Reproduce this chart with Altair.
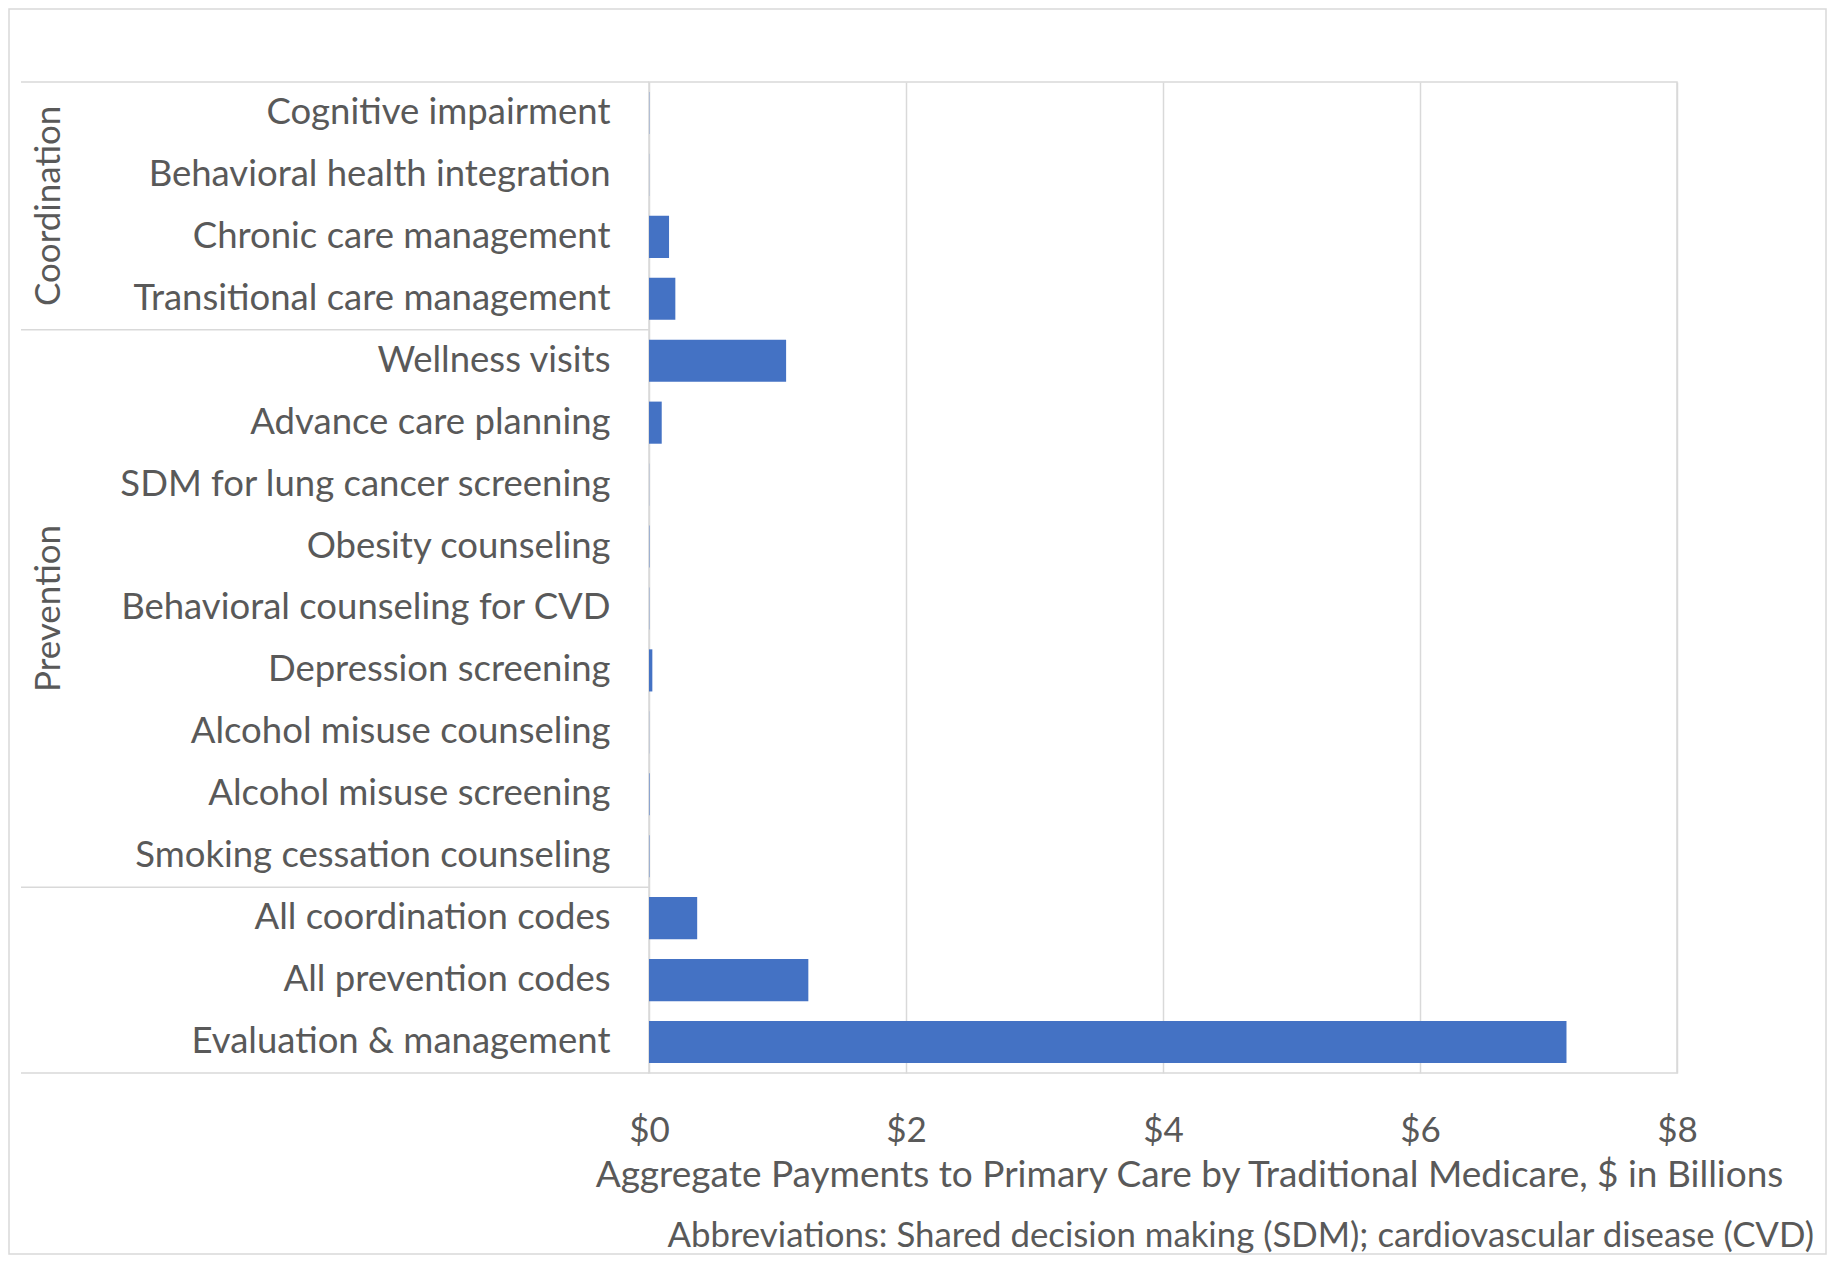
import altair as alt
import pandas as pd

categories = [
    "Cognitive impairment",
    "Behavioral health integration",
    "Chronic care management",
    "Transitional care management",
    "Wellness visits",
    "Advance care planning",
    "SDM for lung cancer screening",
    "Obesity counseling",
    "Behavioral counseling for CVD",
    "Depression screening",
    "Alcohol misuse counseling",
    "Alcohol misuse screening",
    "Smoking cessation counseling",
    "All coordination codes",
    "All prevention codes",
    "Evaluation & management",
]
values = [0.002, 0.001, 0.156, 0.205, 1.067, 0.099, 0.001, 0.003, 0.002,
          0.026, 0.001, 0.004, 0.003, 0.375, 1.24, 7.14]
x_ticks = [0, 2, 4, 6, 8]
separator_rows = ["Cognitive impairment", "Wellness visits", "All coordination codes"]
bottom_row = ["Evaluation & management"]
group_coord = ["Coordination"]
group_coord_row = ["Chronic care management"]
group_prev = ["Prevention"]
group_prev_row = ["Behavioral counseling for CVD"]
x_title = "Aggregate Payments to Primary Care by Traditional Medicare, $ in Billions"
footnote = ["Abbreviations: Shared decision making (SDM); cardiovascular disease (CVD)"]

W, H = 1028, 991
FONT = "Lato"
GRAY = "#595959"
GRID = "#d9d9d9"
BLUE = "#4472C4"
FS = 35

yscale = alt.Scale(domain=categories, paddingInner=0, paddingOuter=0)
yaxis = alt.Axis(
    title=None, labelFont=FONT, labelFontSize=36.5, labelColor=GRAY,
    labelPadding=39, labelLimit=700, ticks=False, domain=False, grid=False,
)

df = pd.DataFrame({"cat": categories, "val": values})

bars = alt.Chart(df).mark_bar(color=BLUE, height={"band": 0.68}).encode(
    x=alt.X(
        "val:Q",
        scale=alt.Scale(domain=[0, 8]),
        axis=alt.Axis(
            values=x_ticks,
            labelExpr="'$' + datum.value",
            title=x_title,
            labelFont=FONT, labelFontSize=FS, labelColor=GRAY, labelPadding=40,
            labelFlush=False,
            titleFont=FONT, titleFontSize=37, titleColor=GRAY, titleFontWeight="normal",
            titlePadding=9, titleX=540,
            grid=True, gridColor=GRID, gridWidth=1.5,
            domain=False, ticks=False,
        ),
    ),
    y=alt.Y("cat:N", scale=yscale, axis=yaxis),
)

sep = alt.Chart(pd.DataFrame({"cat": separator_rows})).mark_rule(
    color=GRID, strokeWidth=1.5
).encode(
    y=alt.Y("cat:N", scale=yscale, bandPosition=0, axis=yaxis),
    x=alt.value(-628),
    x2=alt.value(0),
)

bottom = alt.Chart(pd.DataFrame({"cat": bottom_row})).mark_rule(
    color=GRID, strokeWidth=1.5
).encode(
    y=alt.Y("cat:N", scale=yscale, bandPosition=1, axis=yaxis),
    x=alt.value(-628),
    x2=alt.value(0),
)

coord = alt.Chart(pd.DataFrame({"g": group_coord, "cat": group_coord_row})).mark_text(
    angle=270, font=FONT, fontSize=FS, color=GRAY
).encode(
    text="g:N",
    x=alt.value(-600),
    y=alt.Y("cat:N", scale=yscale, bandPosition=0, axis=yaxis),
)

prev = alt.Chart(pd.DataFrame({"g": group_prev, "cat": group_prev_row})).mark_text(
    angle=270, font=FONT, fontSize=FS, color=GRAY
).encode(
    text="g:N",
    x=alt.value(-600),
    y=alt.Y("cat:N", scale=yscale, bandPosition=0.5, axis=yaxis),
)

foot = alt.Chart(pd.DataFrame({"t": footnote})).mark_text(
    align="right", baseline="middle", font=FONT, fontSize=34.8, color=GRAY
).encode(
    text="t:N",
    x=alt.value(1165),
    y=alt.value(1155),
)

border = alt.Chart(pd.DataFrame({"b": [0]})).mark_rect(
    fill="transparent", stroke=GRID, strokeWidth=1.5
).encode(
    x=alt.value(-640),
    x2=alt.value(1177),
    y=alt.value(-73),
    y2=alt.value(1172),
)

chart = alt.layer(bars, sep, bottom, coord, prev, foot, border).properties(
    width=W, height=H, padding=0, background="white"
).configure_view(stroke=GRID, strokeWidth=1.5)

chart.save("out.html", embed_options={"renderer": "svg", "actions": False})
